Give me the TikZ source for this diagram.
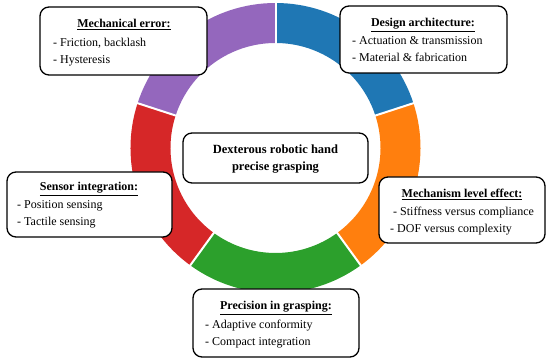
\documentclass[tikz,border=0pt]{standalone}
\usepackage{fontspec}
\setmainfont{Liberation Serif}
\definecolor{cblue}{HTML}{1F77B4}
\definecolor{corange}{HTML}{FF7F0E}
\definecolor{cgreen}{HTML}{2CA02C}
\definecolor{cred}{HTML}{D62728}
\definecolor{cpurple}{HTML}{9467BD}
\tikzset{
  box/.style={draw=black, line width=1.3pt, rounded corners=9pt, fill=white, inner sep=0pt},
  ttl/.style={anchor=base, inner sep=0pt, font=\fontsize{12}{14}\selectfont\bfseries},
  itm/.style={anchor=base west, inner sep=0pt, font=\fontsize{12}{14}\selectfont},
  ctr/.style={anchor=base, inner sep=0pt, font=\fontsize{12.5}{14}\selectfont\bfseries},
  gap/.style={white, line width=2pt}
}
\newcommand{\seg}[3]{\fill[#1] (#2:145) arc[start angle=#2, end angle=#3, radius=145] -- (#3:105) arc[start angle=#3, end angle=#2, radius=105] -- cycle;}
\begin{document}
\begin{tikzpicture}[x=1pt,y=1pt]
\useasboundingbox (0,0) rectangle (550,363);
% ring
\begin{scope}[shift={(275.5,215)}]
\seg{cblue}{18}{90}
\seg{corange}{-54}{18}
\seg{cgreen}{-126}{-54}
\seg{cred}{162}{234}
\seg{cpurple}{90}{162}
\foreach \a in {90,18,-54,-126,162}{\draw[gap] (\a:103) -- (\a:147);}
\end{scope}
% boxes
\node[box, minimum width=167pt, minimum height=68pt] (mech) at (123.5,363-41) {};
\node[box, minimum width=167pt, minimum height=67pt] (design) at (423.5,363-39.5) {};
\node[box, minimum width=185pt, minimum height=50pt] (center) at (275.5,363-158) {};
\node[box, minimum width=165pt, minimum height=65pt] (sensor) at (89.5,363-204.5) {};
\node[box, minimum width=166pt, minimum height=66pt] (mle) at (462,363-210) {};
\node[box, minimum width=166pt, minimum height=68pt] (prec) at (276,363-323) {};
% texts
\node[ttl] (mecht) at (124,363-28) {\underline{Mechanical error:}};
\node[itm] (mech1) at (53,363-47) {- Friction, backlash};
\node[itm] (mech2) at (53,363-64) {- Hysteresis};
\node[ttl] (dest) at (423,363-27) {\underline{Design architecture:}};
\node[itm] (des1) at (352,363-44.5) {- Actuation \& transmission};
\node[itm] (des2) at (352,363-62) {- Material \& fabrication};
\node[ctr] (ct1) at (275.5,363-154) {Dexterous robotic hand};
\node[ctr] (ct2) at (275.5,363-170.5) {precise grasping};
\node[ttl] (sent) at (89,363-191) {\underline{Sensor integration:}};
\node[itm] (sen1) at (17,363-209) {- Position sensing};
\node[itm] (sen2) at (17,363-226) {- Tactile sensing};
\node[ttl] (mlet) at (462,363-198) {\underline{Mechanism level effect:}};
\node[itm] (mle1) at (393,363-216) {- Stiffness versus compliance};
\node[itm] (mle2) at (390,363-233) {- DOF versus complexity};
\node[ttl] (prect) at (276,363-310) {\underline{Precision in grasping:}};
\node[itm] (prec1) at (205,363-329) {- Adaptive conformity};
\node[itm] (prec2) at (205,363-346) {- Compact integration};
\end{tikzpicture}
\end{document}
